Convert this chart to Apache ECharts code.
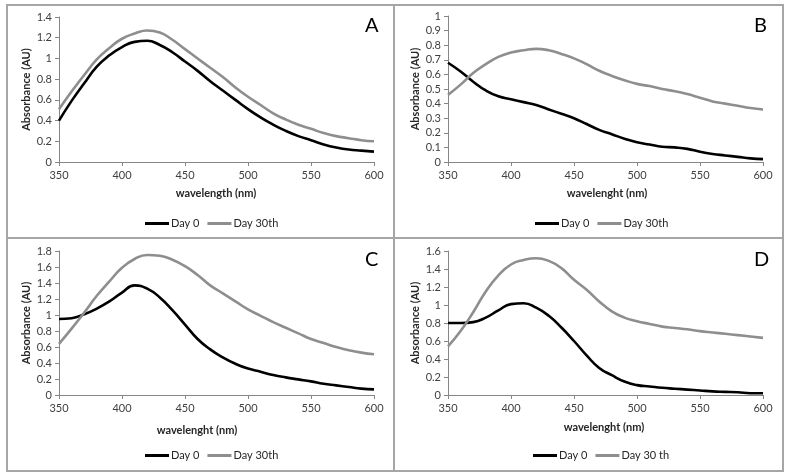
<!DOCTYPE html>
<html>
<head>
<meta charset="utf-8">
<script src="https://cdn.jsdelivr.net/npm/echarts@6/dist/echarts.min.js"></script>
<style>html,body{margin:0;padding:0;background:#fff}#c{width:788px;height:476px}</style>
</head>
<body>
<div id="c"></div>
<script>
const wavelengths = [350,360,370,380,390,400,410,420,430,440,450,460,470,480,490,500,510,520,530,540,550,560,570,580,590,600];
const xTicks = [350,400,450,500,550,600];

const aDay0  = [0.40,0.59,0.76,0.92,1.03,1.11,1.16,1.17,1.13,1.06,0.97,0.88,0.78,0.69,0.60,0.51,0.43,0.36,0.30,0.25,0.21,0.17,0.14,0.12,0.11,0.10];
const aDay30 = [0.51,0.68,0.84,0.99,1.10,1.19,1.24,1.27,1.25,1.18,1.09,1.00,0.91,0.82,0.72,0.63,0.55,0.47,0.41,0.36,0.32,0.28,0.25,0.23,0.21,0.20];

const bDay0  = [0.68,0.62,0.55,0.49,0.45,0.43,0.41,0.39,0.36,0.33,0.30,0.26,0.22,0.19,0.16,0.135,0.12,0.105,0.10,0.09,0.07,0.055,0.045,0.035,0.025,0.02];
const bDay30 = [0.46,0.53,0.61,0.67,0.72,0.75,0.765,0.775,0.765,0.74,0.71,0.67,0.625,0.59,0.56,0.535,0.52,0.50,0.485,0.465,0.44,0.415,0.40,0.385,0.37,0.36];

const cDay0  = [0.95,0.96,1.01,1.08,1.17,1.28,1.37,1.33,1.22,1.06,0.88,0.70,0.57,0.47,0.39,0.33,0.29,0.25,0.22,0.195,0.17,0.14,0.12,0.10,0.08,0.07];
const cDay30 = [0.64,0.83,1.03,1.24,1.42,1.59,1.70,1.75,1.74,1.69,1.61,1.50,1.37,1.27,1.17,1.07,0.99,0.91,0.84,0.77,0.70,0.65,0.60,0.56,0.53,0.51];

const dDay0  = [0.80,0.80,0.81,0.86,0.94,1.01,1.02,0.97,0.88,0.75,0.60,0.44,0.30,0.22,0.15,0.11,0.095,0.08,0.07,0.06,0.05,0.04,0.035,0.03,0.02,0.02];
const dDay30 = [0.54,0.71,0.92,1.15,1.33,1.45,1.50,1.52,1.49,1.41,1.28,1.17,1.04,0.93,0.86,0.82,0.79,0.76,0.745,0.73,0.71,0.695,0.68,0.665,0.65,0.635];

const panels = [
  {letter:'A', xTitle:'wavelength (nm)', yMax:1.4, yInt:0.2, day0:aDay0, day30:aDay30, name30:'Day 30th',
   grid:{left:59, top:17, width:315, height:145}, legend:{left:140, top:213}, letterPos:[373,27], xTitlePos:[216,193]},
  {letter:'B', xTitle:'wavelenght (nm)', yMax:1, yInt:0.1, day0:bDay0, day30:bDay30, name30:'Day 30th',
   grid:{left:448, top:16, width:315, height:146}, legend:{left:530, top:213}, letterPos:[762,27], xTitlePos:[607,193]},
  {letter:'C', xTitle:'wavelenght (nm)', yMax:1.8, yInt:0.2, day0:cDay0, day30:cDay30, name30:'Day 30th',
   grid:{left:59, top:251, width:315, height:144}, legend:{left:140, top:445}, letterPos:[373,261], xTitlePos:[197,430]},
  {letter:'D', xTitle:'wavelenght (nm)', yMax:1.6, yInt:0.2, day0:dDay0, day30:dDay30, name30:'Day 30 th',
   grid:{left:448, top:251, width:315, height:144}, legend:{left:528, top:445}, letterPos:[762,261], xTitlePos:[604,427]}
];

const FONT = 'Lato, "Open Sans", sans-serif';
const axisColor = '#868686';
const labelColor = '#404040';
const BLACK = '#000000';
const GRAY = '#8e8e8e';

const option = {
  animation:false,
  backgroundColor:'#ffffff',
  grid:[], xAxis:[], yAxis:[], series:[], legend:[], graphic:[]
};

function pairs(ys){ return wavelengths.map((w,i)=>[w, ys[i]]); }

panels.forEach((p,i)=>{
  option.grid.push(Object.assign({containLabel:false}, p.grid));
  option.xAxis.push({
    type:'value', gridIndex:i, min:350, max:600, interval:50,
    axisLine:{show:true, onZero:false, lineStyle:{color:axisColor, width:1}},
    axisTick:{show:true, inside:false, length:4, lineStyle:{color:axisColor}},
    axisLabel:{color:labelColor, fontFamily:FONT, fontSize:11, margin:8},
    splitLine:{show:false}
  });
  option.yAxis.push({
    type:'value', gridIndex:i, min:0, max:p.yMax, interval:p.yInt,
    name:'Absorbance (AU)', nameLocation:'middle', nameGap:27, nameRotate:90,
    nameTextStyle:{color:'#262626', fontFamily:FONT, fontSize:11, fontWeight:'bold'},
    axisLine:{show:true, lineStyle:{color:axisColor, width:1}},
    axisTick:{show:true, inside:false, length:4, lineStyle:{color:axisColor}},
    axisLabel:{color:labelColor, fontFamily:FONT, fontSize:11, margin:7,
      formatter:v=>String(Math.round(v*10)/10)},
    splitLine:{show:false}
  });
  option.series.push({
    name:'Day 0', type:'line', xAxisIndex:i, yAxisIndex:i, data:pairs(p.day0),
    smooth:0.5, showSymbol:false, lineStyle:{color:BLACK, width:2.6}, itemStyle:{color:BLACK}
  });
  option.series.push({
    name:p.name30, type:'line', xAxisIndex:i, yAxisIndex:i, data:pairs(p.day30),
    smooth:0.5, showSymbol:false, lineStyle:{color:GRAY, width:2.6}, itemStyle:{color:GRAY}
  });
  option.legend.push({
    left:p.legend.left, top:p.legend.top, orient:'horizontal',
    data:['Day 0', p.name30], icon:'rect', itemWidth:24, itemHeight:3, itemGap:8,
    textStyle:{color:'#262626', fontFamily:FONT, fontSize:11, padding:[0,0,0,-3]},
    selectedMode:false
  });
  option.graphic.push({
    type:'text', left:p.letterPos[0]-8, top:p.letterPos[1]-11,
    style:{text:p.letter, fill:'#000', font:'20px ' + FONT}
  });
  option.graphic.push({
    type:'text', x:p.xTitlePos[0], y:p.xTitlePos[1],
    style:{text:p.xTitle, fill:'#262626', font:'bold 11px ' + FONT, textAlign:'center', textVerticalAlign:'middle'}
  });
});

const border = {stroke:'#a6a6a6', lineWidth:2, fill:null};
option.graphic.push({type:'rect', shape:{x:7,y:5,width:776,height:466}, style:border, silent:true});
option.graphic.push({type:'line', shape:{x1:394,y1:5,x2:394,y2:471}, style:{stroke:'#a6a6a6', lineWidth:2}, silent:true});
option.graphic.push({type:'line', shape:{x1:7,y1:238,x2:783,y2:238}, style:{stroke:'#a6a6a6', lineWidth:2}, silent:true});

const chart = echarts.init(document.getElementById('c'), null, {renderer:'canvas'});
chart.setOption(option);
</script>
</body>
</html>
